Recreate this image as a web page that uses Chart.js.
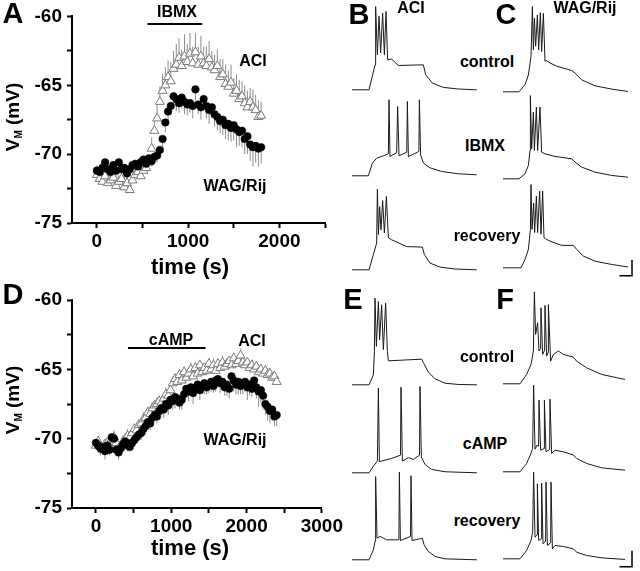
<!DOCTYPE html>
<html>
<head>
<meta charset="utf-8">
<script src="https://cdn.jsdelivr.net/npm/chart.js@4.4.0/dist/chart.umd.min.js"></script>
<style>
body{margin:0;background:#fff;width:640px;height:571px;position:relative;overflow:hidden;
  font-family:"Liberation Sans",Arial,sans-serif;font-weight:bold;color:#000;}
canvas{position:absolute;}
.t{position:absolute;transform:translate(-50%,-50%);line-height:1;white-space:nowrap;font-size:16px;}
.big{font-size:29px;}
.ax{font-size:22px;}
.yt{position:absolute;font-size:19px;line-height:1;white-space:nowrap;transform:translate(-50%,-50%) rotate(-90deg);}
.yt sub{font-size:10px;vertical-align:baseline;position:relative;top:3px;}
</style>
</head>
<body>
<canvas id="chartA" width="345" height="260" style="left:0;top:0"></canvas>
<canvas id="chartD" width="345" height="260" style="left:0;top:280px"></canvas>

<div class="t big" style="left:13px;top:13px">A</div>
<div class="t big" style="left:359px;top:14px">B</div>
<div class="t big" style="left:506px;top:14px">C</div>
<div class="t big" style="left:13px;top:294px">D</div>
<div class="t big" style="left:353px;top:299px">E</div>
<div class="t big" style="left:505px;top:299px">F</div>

<div class="yt" style="left:12px;top:117px">V<sub>M</sub> (mV)</div>
<div class="yt" style="left:12px;top:400px">V<sub>M</sub> (mV)</div>
<div class="t ax" style="left:190px;top:267px">time (s)</div>
<div class="t ax" style="left:190px;top:548px">time (s)</div>

<div class="t" style="left:177px;top:12px">IBMX</div>
<div class="t" style="left:253px;top:61px">ACI</div>
<div class="t" style="left:235px;top:186px">WAG/Rij</div>
<div class="t" style="left:171px;top:340px">cAMP</div>
<div class="t" style="left:252px;top:341px">ACI</div>
<div class="t" style="left:235px;top:440px">WAG/Rij</div>

<div class="t" style="left:411px;top:8px">ACI</div>
<div class="t" style="left:585px;top:8px">WAG/Rij</div>
<div class="t" style="left:487px;top:62px">control</div>
<div class="t" style="left:485px;top:146px">IBMX</div>
<div class="t" style="left:487px;top:236px">recovery</div>
<div class="t" style="left:487px;top:357px">control</div>
<div class="t" style="left:485px;top:444px">cAMP</div>
<div class="t" style="left:487px;top:521px">recovery</div>

<script>
// panel A: IBMX
const aTime = [0,30,60,90,120,150,180,210,240,270,300,330,360,390,420,450,480,510,540,570,600,630,660,690,720,750,780,810,840,870,900,930,960,990,1020,1050,1080,1110,1140,1170,1200,1230,1260,1290,1320,1350,1380,1410,1440,1470,1500,1530,1560,1590,1620,1650,1680,1710,1740,1770,1800];
const aWag = [-71.2,-71.3,-71.0,-70.6,-71.1,-71.3,-70.8,-71.2,-70.6,-71.1,
  -71.0,-71.4,-71.1,-70.8,-70.7,-70.9,-70.6,-70.4,-70.7,-70.3,
  -70.5,-70.2,-70.1,-69.7,-68.9,-67.7,-66.9,-66.5,-65.8,-66.0,
  -66.3,-65.9,-66.2,-66.4,-66.3,-66.5,-65.3,-66.4,-66.6,-66.0,
  -66.5,-66.8,-66.6,-67.1,-67.3,-67.6,-67.5,-67.9,-67.8,-68.1,
  -67.9,-68.2,-68.4,-68.3,-68.9,-68.7,-69.3,-69.5,-69.4,-69.6,-69.5];
const aWagErr = [0.4,0.5,0.3,0.5,0.4,0.3,0.5,0.4,0.6,0.4,0.3,0.5,0.4,0.5,0.4,0.3,0.5,0.4,0.3,0.5,0.4,
  0.4,0.5,0.5,0.6,0.7,0.8,0.7,
  0.8,0.9,0.7,0.8,0.9,0.8,0.7,0.9,0.8,0.7,0.9,0.8,0.9,1.0,0.8,0.9,
  1.0,0.9,1.1,1.0,1.2,1.0,1.1,1.3,1.0,1.2,1.1,1.3,1.2,1.4,1.2,1.3,1.2];
const aAci = [-71.5,-71.8,-72.0,-71.6,-72.1,-71.9,-71.7,-72.3,-72.0,-71.8,
  -72.4,-72.1,-72.6,-71.9,-71.5,-71.3,-71.6,-71.2,-71.0,-70.6,
  -69.6,-68.3,-67.4,-66.2,-65.4,-65.0,-64.4,-64.7,-63.8,-63.5,
  -63.0,-63.6,-62.9,-63.3,-62.7,-63.4,-62.6,-63.5,-62.9,-63.4,
  -63.6,-63.1,-63.7,-63.9,-63.6,-64.4,-64.2,-64.9,-65.1,-64.8,
  -65.6,-65.4,-66.0,-65.8,-66.3,-66.6,-66.2,-66.6,-66.8,-67.3,-67.2];
const aAciErr = [0.7,0.6,0.8,0.5,0.7,0.6,0.8,0.7,0.5,0.6,0.8,0.7,0.6,0.5,0.7,0.6,0.8,0.6,0.7,0.5,0.8,
  0.9,1.0,1.1,1.2,1.3,1.2,1.4,
  1.3,1.5,1.4,1.2,1.6,1.3,1.5,1.2,1.4,1.3,1.5,1.2,1.4,1.3,1.2,1.1,
  1.2,1.3,1.1,1.4,1.2,1.3,1.1,1.2,1.4,1.1,1.3,1.2,1.0,1.3,1.1,1.2,1.0];
const aDrug = [555, 1155];
const aTicks = [0, 500, 1000, 1500, 2000, 2500];

// panel D: cAMP
const dTime = [0,30,60,90,120,150,180,210,240,270,300,330,360,390,420,450,480,510,540,570,600,630,660,690,720,750,780,810,840,870,900,930,960,990,1020,1050,1080,1110,1140,1170,1200,1230,1260,1290,1320,1350,1380,1410,1440,1470,1500,1530,1560,1590,1620,1650,1680,1710,1740,1770,1800,1830,1860,1890,1920,1950,1980,2010,2040,2070,2100,2130,2160,2190,2220,2250,2280,2310,2340,2370,2400];
const dWag = [-70.3,-70.5,-70.7,-70.6,-70.9,-70.5,-70.8,-69.9,-70.0,-70.8,
  -71.0,-70.7,-70.4,-70.2,-70.5,-70.6,-70.3,-70.1,-69.9,-69.7,
  -69.6,-69.3,-69.1,-68.8,-68.9,-68.5,-68.3,-68.4,-68.0,-67.8,
  -67.9,-67.5,-67.6,-67.2,-67.3,-67.0,-67.1,-67.4,-67.2,-66.8,
  -66.4,-66.6,-66.3,-66.7,-66.4,-66.1,-66.5,-66.2,-66.0,-66.3,
  -66.1,-65.9,-66.2,-65.8,-65.7,-66.0,-65.9,-66.3,-66.1,-66.4,
  -65.5,-65.8,-66.1,-65.9,-66.2,-66.0,-65.9,-66.3,-66.1,-66.4,
  -65.8,-66.3,-66.6,-66.5,-66.9,-67.5,-67.7,-68.0,-67.9,-68.4,-68.3];
const dWagErr = [0.4,0.3,0.5,0.4,0.6,0.3,0.4,0.5,0.3,0.4,
  0.5,0.4,0.3,0.5,0.4,0.3,0.4,0.5,0.4,0.3,
  0.5,0.4,0.6,0.4,0.5,0.6,0.4,0.5,0.6,0.5,
  0.6,0.5,0.7,0.5,0.6,0.8,0.6,0.5,0.7,0.6,
  0.5,0.7,0.6,0.8,0.6,0.5,0.7,0.6,0.8,0.5,
  0.6,0.7,0.5,0.8,0.6,0.7,0.5,0.6,0.8,0.7,
  0.6,0.8,0.7,0.9,0.6,0.8,0.7,0.9,0.8,0.6,
  0.9,0.8,1.1,0.9,1.0,0.8,1.0,0.9,0.8,0.7,0.8];
const dAci = [-70.5,-70.2,-70.6,-70.8,-70.4,-70.3,-70.6,-70.0,-69.9,-70.3,
  -70.7,-70.5,-70.2,-70.0,-69.8,-69.9,-69.6,-69.3,-69.4,-69.0,
  -68.9,-68.6,-68.5,-68.1,-68.2,-67.8,-67.6,-67.5,-67.3,-67.4,
  -67.1,-66.8,-66.9,-66.5,-66.0,-65.7,-65.9,-65.4,-65.8,-65.2,
  -65.6,-65.3,-65.0,-65.5,-64.9,-65.3,-64.7,-65.2,-64.9,-65.1,
  -64.6,-65.0,-64.7,-65.1,-64.6,-64.9,-64.5,-64.8,-64.6,-64.4,
  -64.7,-64.2,-64.6,-64.4,-64.0,-64.5,-64.7,-64.5,-64.9,-64.7,
  -65.0,-64.8,-65.2,-65.0,-65.3,-65.1,-65.4,-65.3,-65.6,-65.5,-65.9];
const dAciErr = [0.3,0.4,0.3,0.5,0.3,0.4,0.3,0.4,0.5,0.3,
  0.4,0.3,0.4,0.3,0.5,0.4,0.3,0.4,0.5,0.3,
  0.4,0.5,0.3,0.4,0.5,0.4,0.3,0.5,0.4,0.3,
  0.4,0.5,0.4,0.3,0.5,0.4,0.3,0.4,0.5,0.4,
  0.3,0.4,0.5,0.3,0.4,0.5,0.3,0.4,0.3,0.5,
  0.4,0.3,0.5,0.4,0.3,0.4,0.5,0.3,0.4,0.3,
  0.5,0.4,0.3,0.4,0.5,0.3,0.4,0.3,0.5,0.4,
  0.3,0.4,0.5,0.3,0.4,0.3,0.5,0.4,0.3,0.4,0.3];
const dDrug = [425, 1455];
const dTicks = [0, 500, 1000, 1500, 2000, 2500, 3000];
const vTicks = [-75, -72.5, -70, -67.5, -65, -62.5, -60];

// voltage traces: [time (ms), Vm (mV)]
const aciControl = [[0,-72],[136,-72],[184,-41],[189,32],[203,-28],[216,20],[229,-26],[245,24],[259,-28],[272,26],[285,-34.5],[317,-33.6],[371,-41.6],[571,-40.8],[589,-53],[643,-63.6],[731,-69],[851,-71],[997,-72]];
const aciIbmx = [[0,-72],[131,-72],[163,-56],[197,-50],[250,-47],[291,-44.5],[296,23],[304,-48],[357,-43],[365,14.6],[376,-47],[438,-42.5],[443,21],[451,-48],[535,-41.6],[539,23],[549,-46],[571,-56],[624,-62],[717,-66.6],[851,-69.5],[997,-70.7]];
const aciRecovery = [[0,-72],[136,-72],[197,-38.6],[203,28.8],[211,-28],[221,7],[232,-22],[245,14.6],[259,-26],[275,19.6],[291,-32],[317,-34.5],[437,-43],[563,-43.6],[579,-53],[624,-63.6],[704,-68.6],[824,-71],[997,-72]];
const wagControl = [[0,-72],[128,-72],[176,-63],[203,-51],[224,-28],[235,34.6],[243,-19.5],[251,20],[261,-15],[275,24],[285,-19.5],[299,27],[309,-21.6],[323,26],[336,-34],[349,-33],[376,-36],[429,-40],[549,-45.4],[576,-48.6],[629,-57],[736,-64.5],[869,-68.6],[1000,-71.6]];
const wagIbmx = [[0,-72],[128,-72],[176,-65.8],[203,-55.3],[216,-36.6],[219,32],[229,-34.5],[243,11.3],[251,-36.6],[267,17.6],[277,-36.6],[296,17.6],[309,-38.7],[336,-40.8],[416,-44],[549,-47],[576,-51],[629,-57.4],[736,-63.7],[869,-67.8],[1000,-70]];
const wagRecovery = [[0,-72],[144,-72],[176,-61.6],[203,-49],[219,-24],[224,32],[232,-24],[245,9],[253,-28],[267,17.6],[277,-28],[293,24],[304,-30],[317,24],[328,-34.5],[341,-35.8],[376,-38.7],[469,-44],[563,-44],[589,-49],[643,-57.4],[736,-63.7],[869,-67.8],[1000,-71]];
const aciControl2 = [[0,-72],[136,-72],[171,-59.5],[179,-30.3],[184,36.3],[195,-24],[211,32],[221,-15.7],[237,28],[251,-28],[269,30],[283,-30.3],[291,-42],[557,-40],[573,-45],[611,-56],[664,-64.5],[744,-70],[851,-71.6],[1000,-72]];
const aciCamp = [[0,-72],[136,-72],[171,-63.7],[203,-57.4],[211,34],[219,-58],[317,-54],[388,-50],[392,35],[403,-57.4],[451,-53],[491,-55.3],[540,-50],[544,36],[555,-52.4],[584,-61.6],[637,-67.8],[744,-70.7],[1000,-72]];
const aciRecovery2 = [[0,-72],[136,-72],[171,-59.5],[184,-49],[189,32],[200,-45],[224,-42.8],[277,-47],[375,-47],[379,37.6],[387,-48],[468,-42.8],[472,33],[480,-48],[563,-45],[576,-53],[611,-61.6],[664,-67.8],[744,-70.8],[1000,-72]];
const wagControl2 = [[0,-72],[136,-72],[189,-60.3],[224,-47.8],[243,-31],[251,43],[261,-10.3],[277,4.3],[288,-31],[301,-28],[304,23],[317,-35.3],[333,-30],[336,26],[349,-37.4],[360,-33],[363,27],[381,-43.7],[403,-35.3],[443,-31],[483,-35.3],[563,-38.7],[589,-43.7],[669,-52],[789,-60.3],[976,-66.6]];
const wagCamp = [[0,-72],[136,-72],[189,-61.6],[224,-49],[237,-42.8],[245,36.3],[256,-43.7],[272,-38.7],[285,-40],[288,17.6],[301,-45],[328,-43],[331,17.6],[344,-47],[373,-44],[376,18.8],[389,-49],[416,-45],[483,-47],[563,-51],[589,-55.3],[669,-61.6],[789,-67],[976,-70]];
const wagRecovery2 = [[0,-72],[136,-72],[189,-61.6],[224,-49],[237,-38.7],[245,36.3],[256,-45],[272,-42],[275,21.8],[285,-49],[306,-47],[309,22.6],[320,-53.3],[341,-50],[344,23.8],[355,-55.3],[381,-52],[384,23.8],[395,-59.5],[416,-55.3],[483,-56.6],[563,-59.5],[589,-63.7],[669,-67.8],[789,-70.8],[976,-72.8]];
const scaleBarSize = [100, 20]; // ms, mV

Chart.defaults.font.family = '"Liberation Sans", Arial, sans-serif';
Chart.defaults.font.weight = 'bold';
Chart.defaults.color = '#000';

const errorBars = {
  id: 'errorBars',
  beforeDatasetsDraw(chart) {
    const ctx = chart.ctx, ys = chart.scales.y;
    chart.data.datasets.forEach((ds, i) => {
      if (!ds.errors) return;
      const meta = chart.getDatasetMeta(i);
      ctx.save();
      ctx.strokeStyle = '#8c8c8c';
      ctx.lineWidth = 1;
      ctx.beginPath();
      meta.data.forEach((pt, j) => {
        const v = ds.data[j].y;
        ctx.moveTo(pt.x, ys.getPixelForValue(v));
        ctx.lineTo(pt.x, ys.getPixelForValue(v + ds.errSign * ds.errors[j]));
      });
      ctx.stroke();
      ctx.restore();
    });
  }
};

const drugBar = {
  id: 'drugBar',
  afterDatasetsDraw(chart, args, opts) {
    if (!opts.period) return;
    const xs = chart.scales.x, ys = chart.scales.y, ctx = chart.ctx;
    const py = ys.getPixelForValue(opts.level);
    ctx.save();
    ctx.strokeStyle = '#000';
    ctx.lineWidth = 2;
    ctx.beginPath();
    ctx.moveTo(xs.getPixelForValue(opts.period[0]), py);
    ctx.lineTo(xs.getPixelForValue(opts.period[1]), py);
    ctx.stroke();
    ctx.restore();
  }
};

const scaleBar = {
  id: 'scaleBar',
  afterDatasetsDraw(chart, args, opts) {
    if (!opts.show) return;
    const xs = chart.scales.x, ys = chart.scales.y, ctx = chart.ctx;
    const t1 = 1032, v0 = -82;
    ctx.save();
    ctx.strokeStyle = '#000';
    ctx.lineWidth = 1.5;
    ctx.beginPath();
    ctx.moveTo(xs.getPixelForValue(t1 - scaleBarSize[0]), ys.getPixelForValue(v0));
    ctx.lineTo(xs.getPixelForValue(t1), ys.getPixelForValue(v0));
    ctx.lineTo(xs.getPixelForValue(t1), ys.getPixelForValue(v0 + scaleBarSize[1]));
    ctx.stroke();
    ctx.restore();
  }
};

function vmChart(id, time, wag, wagErr, aci, aciErr, drug, xTicks, opt) {
  new Chart(document.getElementById(id), {
    type: 'scatter',
    data: {
      datasets: [
        {
          label: 'WAG/Rij',
          data: time.map((t, i) => ({x: t, y: wag[i]})),
          errors: wagErr, errSign: -1,
          pointStyle: 'circle', pointRadius: 3.8,
          backgroundColor: '#000', borderColor: '#000', borderWidth: 0.5
        },
        {
          label: 'ACI',
          data: time.map((t, i) => ({x: t, y: aci[i]})),
          errors: aciErr, errSign: 1,
          pointStyle: 'triangle', pointRadius: 5.2,
          backgroundColor: '#fff', borderColor: '#7a7a7a', borderWidth: 1
        }
      ]
    },
    options: {
      responsive: false,
      animation: false,
      events: [],
      layout: {padding: {top: opt.top, right: opt.right, left: 0, bottom: 0}},
      plugins: {
        legend: {display: false},
        tooltip: {enabled: false},
        drugBar: {period: drug, level: opt.level}
      },
      scales: {
        x: {
          type: 'linear', min: opt.xmin, max: opt.xmax,
          afterBuildTicks: s => { s.ticks = xTicks.map(v => ({value: v})); },
          afterFit: s => { s.height = opt.xh; },
          ticks: {padding: 2, autoSkip: false, maxRotation: 0, font: {size: 19, weight: 'bold'},
            callback: v => (v % 1000 === 0 ? String(v) : '')},
          grid: {drawOnChartArea: false, tickLength: 5, tickWidth: 2, tickColor: '#000'},
          border: {color: '#000', width: 2}
        },
        y: {
          min: -75, max: -60,
          afterBuildTicks: s => { s.ticks = vTicks.map(v => ({value: v})); },
          afterFit: s => { s.width = 72; },
          ticks: {padding: 5, autoSkip: false, font: {size: 19, weight: 'bold'},
            callback: v => (v % 5 === 0 ? String(v) : '')},
          grid: {drawOnChartArea: false, tickLength: 5, tickWidth: 2, tickColor: '#000'},
          border: {color: '#000', width: 2}
        }
      }
    },
    plugins: [errorBars, drugBar]
  });
}

vmChart('chartA', aTime, aWag, aWagErr, aAci, aAciErr, aDrug, aTicks,
  {xmin: -273, xmax: 2500, top: 15, right: 20, xh: 37, level: -60.55});
vmChart('chartD', dTime, dWag, dWagErr, dAci, dAciErr, dDrug, dTicks,
  {xmin: -318, xmax: 3000, top: 20, right: 23, xh: 32, level: -63.46});

function traceChart(pts, left, base, bar) {
  const c = document.createElement('canvas');
  c.width = 130; c.height = 108;
  c.style.left = left + 'px';
  c.style.top = Math.round(base - 96.8) + 'px';
  document.body.appendChild(c);
  new Chart(c, {
    type: 'line',
    data: {datasets: [{
      data: pts.map(p => ({x: p[0], y: p[1]})),
      borderColor: '#1a1a1a', borderWidth: 1, pointRadius: 0, tension: 0, clip: false
    }]},
    options: {
      responsive: false, animation: false, events: [],
      plugins: {legend: {display: false}, tooltip: {enabled: false}, scaleBar: {show: bar}},
      scales: {
        x: {type: 'linear', min: 0, max: 1040, display: false},
        y: {min: -86, max: 49, display: false}
      }
    },
    plugins: [scaleBar]
  });
}

traceChart(aciControl, 352, 90, false);
traceChart(aciIbmx, 352, 176, false);
traceChart(aciRecovery, 352, 270, false);
traceChart(wagControl, 503, 92, false);
traceChart(wagIbmx, 503, 179, false);
traceChart(wagRecovery, 503, 268, true);
traceChart(aciControl2, 352, 385, false);
traceChart(aciCamp, 352, 473, false);
traceChart(aciRecovery2, 352, 560, false);
traceChart(wagControl2, 503, 384, false);
traceChart(wagCamp, 503, 472, false);
traceChart(wagRecovery2, 503, 559, true);
</script>
</body>
</html>
